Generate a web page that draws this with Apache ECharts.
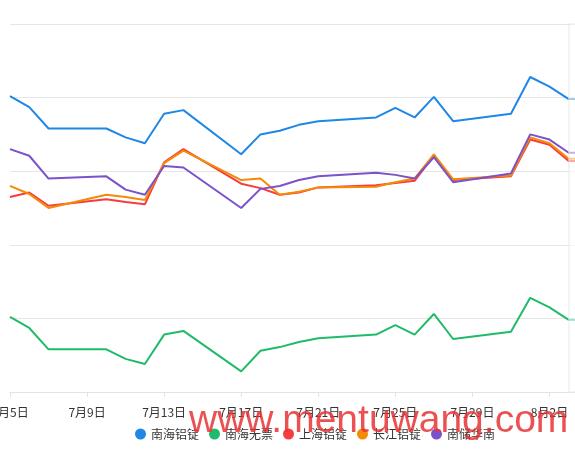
<!DOCTYPE html>
<html>
<head>
<meta charset="utf-8">
<script src="https://cdn.jsdelivr.net/npm/echarts@6/dist/echarts.min.js"></script>
<style>
    html, body { margin: 0; padding: 0; background: #fff; }
    #chart { width: 575px; height: 451px; }
</style>
</head>
<body>
<div id="chart"></div>
<script>
// 日期（周末无数据）
const dates = ['7月5日', '7月6日', '7月7日', '7月8日', '7月9日', '7月10日', '7月11日', '7月12日', '7月13日', '7月14日',
    '7月15日', '7月16日', '7月17日', '7月18日', '7月19日', '7月20日', '7月21日', '7月22日', '7月23日', '7月24日',
    '7月25日', '7月26日', '7月27日', '7月28日', '7月29日', '7月30日', '7月31日', '8月1日', '8月2日', '8月3日', '8月4日']

// 各系列价格
const nanhai = [18702, 18687, 18658, null, null, 18658, 18646, 18638, 18678, 18683,
    null, null, 18623, 18650, 18655, 18663, 18668, null, null, 18673,
    18686, 18673, 18701, 18668, null, null, 18678, 18728, 18715, 18698, 18698]
const nanhaiNoTax = [18402, 18387, 18358, null, null, 18358, 18345, 18338, 18378, 18383,
    null, null, 18328, 18356, 18361, 18368, 18373, null, null, 18378,
    18391, 18378, 18406, 18372, null, null, 18382, 18428, 18415, 18398, 18398]
const shanghai = [18565, 18571, 18553, null, null, 18562, 18558, 18555, 18612, 18630,
    null, null, 18583, 18577, 18568, 18571, 18578, null, null, 18581,
    18584, 18587, 18621, 18588, null, null, 18593, 18643, 18636, 18614, 18614]
const changjiang = [18580, 18569, 18550, null, null, 18568, 18565, 18561, 18611, 18628,
    null, null, 18588, 18590, 18568, 18572, 18578, null, null, 18579,
    18585, 18590, 18623, 18589, null, null, 18594, 18646, 18638, 18617, 18617]
const nanchu = [18630, 18621, 18590, null, null, 18593, 18575, 18568, 18607, 18605,
    null, null, 18550, 18576, 18580, 18588, 18593, null, null, 18598,
    18595, 18590, 18619, 18585, null, null, 18597, 18650, 18643, 18625, 18625]

const names = ['南海铝锭', '南海无票', '上海铝锭', '长江铝锭', '南储华南']
const colors = ['#1f87e6', '#1fbb6b', '#f63c3c', '#f58a07', '#7b52cc']
const values = [nanhai, nanhaiNoTax, shanghai, changjiang, nanchu]

const myChart = echarts.init(document.getElementById('chart'))

let option = {
    animation: false,
    textStyle: {
        fontFamily: 'Noto Sans CJK SC'
    },
    legend: {
        left: 130,
        top: 423,
        icon: 'circle',
        itemWidth: 11,
        itemHeight: 11,
        itemGap: 10,
        textStyle: {
            color: '#333',
            fontSize: 12
        },
        data: names
    },
    grid: {
        left: 10,
        right: -13,
        top: 24,
        bottom: 59,
        containLabel: false,
        outerBoundsMode: 'none'
    },
    xAxis: {
        type: 'category',
        boundaryGap: false,
        data: dates,
        axisLine: {
            lineStyle: { color: '#e3e3e3', width: 1 }
        },
        axisTick: {
            interval: 3,
            length: 5,
            lineStyle: { color: '#e3e3e3' }
        },
        axisLabel: {
            interval: 3,
            margin: 14,
            color: '#333',
            fontSize: 12,
            hideOverlap: false,
            showMinLabel: true
        }
    },
    yAxis: {
        type: 'value',
        min: 18300,
        max: 18800,
        interval: 100,
        axisLabel: { show: false },
        axisLine: { show: false },
        axisTick: { show: false },
        splitLine: {
            lineStyle: { color: '#e6e6e6' }
        }
    },
    series: names.map((name, i) => ({
        name: name,
        type: 'line',
        data: values[i],
        connectNulls: true,
        showSymbol: false,
        color: colors[i],
        lineStyle: { width: 2 }
    })),
    graphic: [
        {
            type: 'rect',
            z: 50,
            shape: { x: 569, y: 24, width: 20, height: 368 },
            style: { fill: 'rgba(255,255,255,0.55)', stroke: '#e8e8e8', lineWidth: 1 }
        },
        {
            type: 'text',
            z: 100,
            x: 189,
            y: 421,
            style: {
                text: 'www.mentuwang.com',
                font: '39px "Liberation Sans"',
                fill: 'rgba(232,50,52,0.85)',
                verticalAlign: 'middle'
            }
        }
    ]
}

myChart.setOption(option)
</script>
</body>
</html>
